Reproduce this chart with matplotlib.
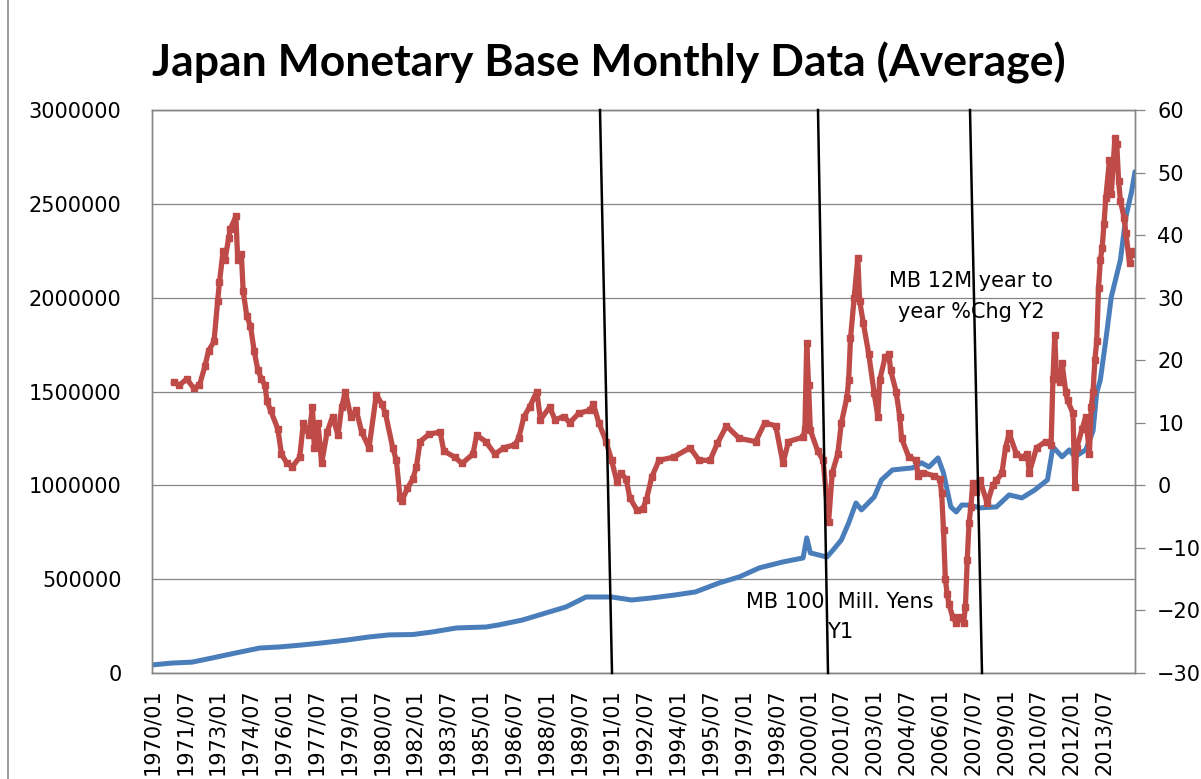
import matplotlib
matplotlib.use("Agg")
import matplotlib.pyplot as plt
from matplotlib.lines import Line2D

# YoY % change of the monetary base (right axis)
red_dates = [
    "1971/01", "1971/04", "1971/08", "1971/12", "1972/03", "1972/06", "1972/08", "1972/11",
    "1973/01", "1973/02", "1973/04", "1973/05", "1973/07", "1973/08", "1973/11", "1973/12",
    "1974/02", "1974/03", "1974/05", "1974/07", "1974/09", "1974/11", "1975/01", "1975/03",
    "1975/04", "1975/06", "1975/10", "1975/12", "1976/03", "1976/06", "1976/10", "1976/12",
    "1977/03", "1977/05", "1977/06", "1977/08", "1977/10", "1978/01", "1978/04", "1978/07",
    "1978/09", "1978/11", "1979/02", "1979/05", "1979/08", "1979/12", "1980/04", "1980/07",
    "1980/09", "1981/01", "1981/03", "1981/05", "1981/06", "1981/09", "1981/12", "1982/02",
    "1982/04", "1982/09", "1983/03", "1983/05", "1983/11", "1984/03", "1984/09", "1984/11",
    "1985/04", "1985/09", "1986/02", "1986/08", "1986/10", "1987/01", "1987/04", "1987/08",
    "1987/10", "1988/03", "1988/06", "1988/11", "1989/02", "1989/07", "1990/01", "1990/03",
    "1990/06", "1990/10", "1991/01", "1991/04", "1991/06", "1991/09", "1991/11", "1992/03",
    "1992/06", "1992/08", "1992/11", "1993/03", "1993/11", "1994/08", "1995/01", "1995/07",
    "1995/11", "1996/04", "1996/11", "1997/08", "1998/01", "1998/07", "1998/11", "1999/02",
    "1999/10", "1999/11", "1999/12", "2000/01", "2000/02", "2000/06", "2000/09", "2000/12",
    "2001/02", "2001/05", "2001/07", "2001/10", "2001/11", "2001/12", "2002/02", "2002/04",
    "2002/05", "2002/07", "2002/10", "2003/01", "2003/03", "2003/04", "2003/07", "2003/09",
    "2003/10", "2004/01", "2004/03", "2004/04", "2004/08", "2004/12", "2005/01", "2005/04",
    "2005/10", "2006/01", "2006/02", "2006/03", "2006/04", "2006/05", "2006/06", "2006/08",
    "2006/10", "2006/12", "2007/02", "2007/03", "2007/04", "2007/05", "2007/06", "2007/07",
    "2007/09", "2007/11", "2008/03", "2008/06", "2008/08", "2008/11", "2009/01", "2009/03",
    "2009/07", "2009/10", "2010/01", "2010/02", "2010/06", "2010/11", "2011/02", "2011/03",
    "2011/04", "2011/05", "2011/07", "2011/08", "2011/10", "2011/11", "2012/02", "2012/03",
    "2012/04", "2012/07", "2012/09", "2012/11", "2012/12", "2013/01", "2013/02", "2013/03",
    "2013/04", "2013/05", "2013/06", "2013/07", "2013/08", "2013/10", "2013/11", "2014/01",
    "2014/02", "2014/03", "2014/04", "2014/06", "2014/07", "2014/09", "2014/10", "2014/12",
]
red_vals = [
    16.5, 16, 17, 15.5, 16, 19, 21.5, 23,
    29.5, 32.5, 37.5, 36, 39.5, 41, 43, 36,
    37, 31, 27, 25.5, 21.5, 18.5, 17, 16,
    13.5, 12, 9, 5, 3.5, 3, 4.5, 10,
    8, 12.5, 6, 10, 3.5, 8.5, 11, 8,
    12.5, 15, 11, 12, 8.5, 6, 14.5, 13,
    11.5, 6, 4, -2, -2.5, -0.5, 1, 3,
    7, 8.2, 8.5, 5.5, 4.5, 3.5, 5, 8,
    7, 5, 6, 6.5, 7.5, 11, 12.5, 15,
    10.5, 12.5, 10.5, 11, 10, 11.5, 12, 13,
    10, 7, 4, 0.5, 2, 1, -2, -4,
    -3.8, -2.4, 1.3, 4, 4.5, 6, 4, 4,
    6.7, 9.5, 7.5, 7, 10, 9.5, 3.5, 7,
    7.7, 9, 22.7, 16, 8.8, 5.5, 4, -5.8,
    2, 5, 10, 14, 16.8, 23.5, 30, 36.4,
    29.5, 26, 21, 14.7, 11, 16.8, 20.5, 21,
    18.4, 15, 11, 7.5, 4.5, 4, 1.5, 2,
    1.5, 1, -1.3, -7.2, -15, -17.3, -19, -21,
    -22, -21, -22, -19.5, -12, -6, -3.5, 0.3,
    -1, 0.8, -2.9, 0, 0.8, 1.9, 6, 8.3,
    5, 4.5, 5, 2, 6, 7, 6.5, 17,
    24, 17, 16.5, 19.5, 15, 13.6, 11.5, -0.3,
    6, 9, 11, 5, 12.5, 15, 20, 23,
    31.6, 36, 38, 41.8, 46, 52, 46.6, 55.6,
    54.6, 48.7, 45.5, 42.8, 40.3, 35.5, 37.5, 37,
]

# Monetary base, 100 million yen (left axis)
blue_dates = [
    "1970/01", "1970/12", "1971/11", "1972/10", "1973/11", "1974/12", "1975/11", "1976/11",
    "1977/10", "1978/12", "1979/12", "1980/11", "1981/12", "1982/11", "1983/12", "1985/04",
    "1985/11", "1986/12", "1988/01", "1988/12", "1989/11", "1991/01", "1991/12", "1992/11",
    "1993/12", "1994/11", "1995/12", "1996/11", "1997/10", "1998/11", "1999/10", "1999/12",
    "2000/02", "2000/11", "2001/02", "2001/07", "2001/11", "2002/03", "2002/06", "2003/01",
    "2003/05", "2003/11", "2004/10", "2005/03", "2005/07", "2005/12", "2006/03", "2006/07",
    "2006/10", "2007/01", "2007/05", "2007/11", "2008/08", "2009/03", "2009/10", "2010/05",
    "2010/12", "2011/03", "2011/08", "2011/12", "2012/03", "2012/09", "2013/01", "2013/03",
    "2013/05", "2013/08", "2013/11", "2014/04", "2014/07", "2014/10", "2014/12",
]
blue_vals = [
    43000, 53000, 58000, 80000, 107000, 133000, 139000, 149000,
    160000, 176000, 192000, 203000, 205000, 219000, 240000, 245000,
    256000, 282000, 320000, 352000, 405000, 405000, 389000, 400000,
    416000, 432000, 480000, 512000, 560000, 592000, 613000, 720000,
    640000, 618000, 650000, 709000, 800000, 906000, 869000, 938000,
    1029000, 1082000, 1093000, 1120000, 1098000, 1146000, 1066000, 885000,
    858000, 895000, 895000, 880000, 885000, 949000, 933000, 975000,
    1029000, 1205000, 1152000, 1189000, 1152000, 1189000, 1290000, 1493000,
    1562000, 1775000, 2004000, 2201000, 2431000, 2559000, 2671000,
]

tick_labels = [
    "1970/01", "1971/07", "1973/01", "1974/07", "1976/01", "1977/07", "1979/01", "1980/07",
    "1982/01", "1983/07", "1985/01", "1986/07", "1988/01", "1989/07", "1991/01", "1992/07",
    "1994/01", "1995/07", "1997/01", "1998/07", "2000/01", "2001/07", "2003/01", "2004/07",
    "2006/01", "2007/07", "2009/01", "2010/07", "2012/01", "2013/07",
]


def month_index(s):
    y, m = s.split("/")
    return (int(y) - 1970) * 12 + int(m) - 1


W, H = 1201, 779
fig = plt.figure(figsize=(W / 100, H / 100), dpi=100)
L, R, T, B = 152, 1135, 110, 673
ax = fig.add_axes([L / W, 1 - B / H, (R - L) / W, (B - T) / H])
ax2 = ax.twinx()

grey = "#868686"
blue = "#4A7EBB"
red = "#BE4B48"

ax.plot([month_index(d) for d in blue_dates], blue_vals, color=blue, lw=3.6,
        solid_joinstyle="round", solid_capstyle="round", zorder=3)
ax2.plot([month_index(d) for d in red_dates], red_vals, color=red, lw=3.8,
         marker="s", ms=5, mec=red, mfc=red, solid_joinstyle="round")

ax.set_xlim(0, 539)
ax.set_ylim(0, 3000000)
ax2.set_ylim(-30, 60)

ax.set_yticks(range(0, 3000001, 500000))
ax.set_yticklabels([str(v) for v in range(0, 3000001, 500000)])
ax2.set_yticks(range(-30, 61, 10))
ax.set_xticks([month_index(t) for t in tick_labels])
ax.set_xticklabels(tick_labels, rotation=90)

ax.grid(axis="y", color=grey, lw=0.9)
ax.set_axisbelow(True)

for a in (ax, ax2):
    for sp in a.spines.values():
        sp.set_color(grey)
        sp.set_linewidth(1.0)

fs = 15
ax.tick_params(axis="y", length=0, pad=22, labelsize=fs)
ax.tick_params(axis="x", length=0, pad=11, labelsize=fs)
ax2.tick_params(axis="y", length=7, width=0.9, color=grey, direction="out",
                pad=9, labelsize=fs)

fig.text(609 / W, 1 - 76 / H, "Japan Monetary Base Monthly Data (Average)",
         ha="center", va="baseline", fontsize=32, fontweight="bold", family="Lato")

fig.text(971 / W, 1 - 281 / H, "MB 12M year to", ha="center", va="center", fontsize=fs)
fig.text(971 / W, 1 - 312 / H, "year %Chg Y2", ha="center", va="center", fontsize=fs)
fig.text(840 / W, 1 - 602 / H, "MB 100  Mill. Yens", ha="center", va="center", fontsize=fs)
fig.text(840 / W, 1 - 632 / H, "Y1", ha="center", va="center", fontsize=fs)

# hand drawn separators
for (x0, x1) in [(600, 612), (818, 828), (970, 982)]:
    fig.add_artist(Line2D([x0 / W, x1 / W], [1 - T / H, 1 - B / H],
                          color="black", lw=1.8, zorder=10))

# chart area border
fig.add_artist(Line2D([8 / W, 8 / W], [0, 1], color="#8A8A8A", lw=1.2))

fig.savefig("out.png", dpi=100)
